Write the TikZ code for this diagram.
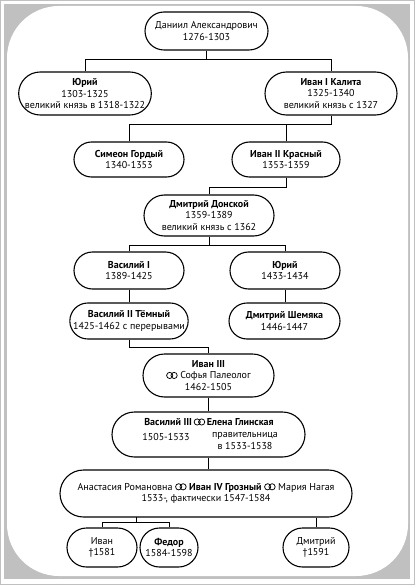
\documentclass[tikz,border=0pt]{standalone}
\usepackage{fontspec}
\setmainfont{PT Sans}
\usetikzlibrary{shapes.misc}
\definecolor{framegray}{RGB}{192,192,192}
\newcommand{\marr}{\tikz[baseline=0pt,x=1pt,y=1pt]{\draw[line width=0.75pt] (3.1,3.5) circle (3.1pt) (7.5,3.5) circle (3.1pt);}}
\begin{document}
\begin{tikzpicture}[x=1pt,y=-1pt,
  every node/.style={font=\fontsize{10}{11.5}\selectfont},
  box/.style n args={2}{draw, rounded rectangle, line width=1.1pt, inner sep=0pt,
    minimum width=#1, minimum height=#2, align=center},
  txt/.style={inner sep=0pt, align=center},
  link/.style={line width=0.8pt}]
\useasboundingbox (0,0) rectangle (415,585);
% frame
\fill[white] (0,0) rectangle (415,585);
\draw[framegray, line width=1pt] (0.5,0.5) rectangle (414.5,584.5);
\fill[framegray] (4,4) rectangle (410,579);
\fill[white, rounded corners=52pt] (7,6) rectangle (408,576);
% nodes
\node[box={123pt}{38pt}] (dan) at (206.5,31) {Даниил Александрович\\1276-1303};
\node[box={130pt}{43pt}] (yu1) at (85,93.5) {\textbf{Юрий}\\1303-1325\\великий князь в 1318-1322};
\node[box={132pt}{43pt}] (iv1) at (331,93.5) {\textbf{Иван I Калита}\\1325-1340\\великий князь с 1327};
\node[box={110pt}{35pt}] (sim) at (129,159.5) {\textbf{Симеон Гордый}\\1340-1353};
\node[box={108pt}{35pt}] (iv2) at (286,159.5) {\textbf{Иван II Красный}\\1353-1359};
\node[box={130pt}{41pt}] (dd) at (209,215.5) {\textbf{Дмитрий Донской}\\1359-1389\\великий князь с 1362};
\node[box={110pt}{37pt}] (v1) at (129,270.5) {\textbf{Василий I}\\1389-1425};
\node[box={110pt}{37pt}] (yu2) at (285,270.5) {\textbf{Юрий}\\1433-1434};
\node[box={110pt}{36pt}] (v2) at (129,321) {\textbf{Василий II Тёмный}\\1425-1462 с перерывами};
\node[box={111pt}{36pt}] (ds) at (284.5,321) {\textbf{Дмитрий Шемяка}\\1446-1447};
\node[box={131pt}{43pt}] (i3) at (208.5,375.5) {\textbf{Иван III}\\\marr\ Софья Палеолог\hspace{8pt}\\1462-1505};
\node[box={193pt}{45pt}] (v3) at (208.5,434.5) {};
\node[txt] (v3a) at (209,422) {\textbf{Василий III}\,\marr\,\textbf{Елена Глинская}};
\node[txt] (v3b) at (166,436.5) {1505-1533};
\node[txt] (v3c) at (245,441) {правительница\\в 1533-1538};
\node[box={292pt}{47pt}] (i4) at (206,493.5) {Анастасия Романовна \marr\ \textbf{Иван IV Грозный} \marr\ Мария Нагая\\1533-, фактически 1547-1584};
\node[box={70pt}{39pt}] (ivs) at (102,547.5) {Иван\\†1581};
\node[box={58pt}{39pt}] (fed) at (169,547.5) {\textbf{Федор}\\1584-1598};
\node[box={66pt}{39pt}] (dms) at (316,547.5) {Дмитрий\\†1591};
% connectors
\draw[link] (dan.south) -- ++(0,9) -| (yu1.north);
\draw[link] (dan.south) ++(0,9) -| (iv1.north);
\draw[link] (iv1.south) -- ++(0,9) coordinate (j1) -| (sim.north);
\draw[link] (iv2.north) -- (iv2.north |- j1);
\draw[link] (iv2.south) -- ++(0,10) -| (dd.north);
\draw[link] (dd.south) -- ++(0,9) coordinate (j2);
\draw[link] (v1.north) |- (j2);
\draw[link] (yu2.north) |- (j2);
\draw[link] (v1.south) -- (v1.south |- v2.north);
\draw[link] (yu2.south) -- (yu2.south |- ds.north);
\draw[link] (v2.south) -- ++(0,8) -| (i3.north);
\draw[link] (i3.south) -- (i3.south |- v3.north);
\draw[link] (v3.south) -- (v3.south |- i4.north);
\coordinate (j4) at (136.5,517);
\draw[link] (j4) -- ++(0,5) coordinate (j5) -| (ivs.north);
\draw[link] (j5) -| (fed.north);
\draw[link] (dms.north) -- (dms.north |- i4.south);
\end{tikzpicture}
\end{document}
